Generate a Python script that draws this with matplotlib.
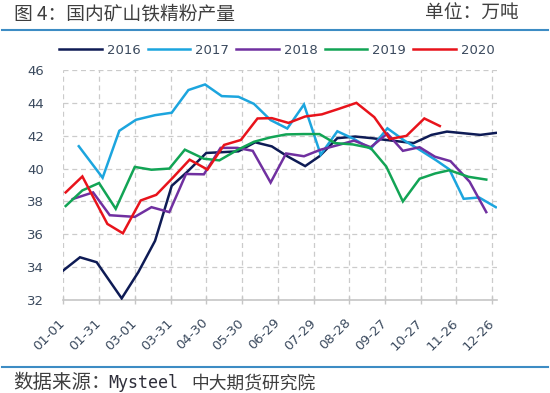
import matplotlib
matplotlib.use('Agg')
import matplotlib.pyplot as plt
import pandas as pd
from matplotlib.lines import Line2D

YEAR = 2020

dates_2016 = ['01-01', '01-15', '01-29', '02-19', '03-04', '03-18', '04-01', '04-14', '04-30', '05-14',
              '05-27', '06-10', '06-24', '07-07', '07-22', '08-03', '08-18', '09-02', '09-16', '09-27',
              '10-09', '10-21', '11-05', '11-18', '12-02', '12-16', '12-29']
vals_2016 = [33.8, 34.6, 34.3, 32.1, 33.7, 35.6, 38.95, 39.8, 40.95, 41.0,
             41.05, 41.6, 41.35, 40.75, 40.15, 40.75, 41.85, 41.95, 41.85, 41.75,
             41.65, 41.55, 42.05, 42.25, 42.15, 42.05, 42.17]

dates_2017 = ['01-14', '02-03', '02-17', '03-02', '03-18', '04-01', '04-15', '04-29', '05-13', '05-27',
              '06-09', '06-23', '07-07', '07-21', '08-04', '08-18', '09-01', '09-15', '09-29', '10-13',
              '10-27', '11-09', '11-20', '12-02', '12-15', '12-29']
vals_2017 = [41.36, 39.44, 42.3, 42.97, 43.25, 43.4, 44.78, 45.12, 44.41, 44.37,
             43.94, 42.95, 42.44, 43.9, 40.85, 42.27, 41.8, 41.2, 42.45, 41.72,
             41.1, 40.5, 39.95, 38.16, 38.24, 37.65]

dates_2018 = ['01-09', '01-26', '02-09', '03-01', '03-15', '03-30', '04-13', '04-28', '05-12', '05-26',
              '06-08', '06-23', '07-06', '07-21', '08-04', '08-18', '09-01', '09-15', '09-29', '10-12',
              '10-26', '11-08', '11-21', '12-07', '12-21']
vals_2018 = [38.15, 38.55, 37.16, 37.06, 37.65, 37.35, 39.67, 39.65, 41.26, 41.26,
             41.08, 39.15, 40.92, 40.75, 41.15, 41.42, 41.7, 41.3, 42.13, 41.08,
             41.3, 40.72, 40.45, 39.2, 37.35]

dates_2019 = ['01-03', '01-17', '01-31', '02-14', '03-01', '03-15', '03-30', '04-12', '04-28', '05-11',
              '05-26', '06-09', '06-23', '07-06', '07-21', '08-03', '08-16', '08-31', '09-15', '09-28',
              '10-12', '10-26', '11-08', '11-20', '12-06', '12-21']
vals_2019 = [37.72, 38.67, 39.12, 37.55, 40.1, 39.93, 40.0, 41.15, 40.6, 40.5,
             41.13, 41.63, 41.9, 42.08, 42.1, 42.1, 41.55, 41.47, 41.25, 40.13,
             38.0, 39.38, 39.7, 39.9, 39.5, 39.33]

dates_2020 = ['01-03', '01-17', '02-07', '02-20', '03-06', '03-19', '04-02', '04-16', '05-01', '05-15',
              '05-29', '06-12', '06-24', '07-08', '07-22', '08-05', '08-19', '09-03', '09-18', '10-01',
              '10-15', '10-30', '11-12']
vals_2020 = [38.55, 39.52, 36.63, 36.06, 38.06, 38.4, 39.45, 40.54, 39.94, 41.44,
             41.74, 43.05, 43.07, 42.78, 43.17, 43.3, 43.63, 44.0, 43.13, 41.8,
             41.99, 43.05, 42.59]

series_names = ['2016', '2017', '2018', '2019', '2020']
series_colors = ['#0E1B55', '#1CA5DE', '#7030A0', '#12A455', '#E8131B']
tick_labels = ['01-01', '01-31', '03-01', '03-31', '04-30', '05-30', '06-29',
               '07-29', '08-28', '09-27', '10-27', '11-26', '12-26']
y_ticks = [32, 34, 36, 38, 40, 42, 44, 46]

title_text = '图 4：国内矿山铁精粉产量'
unit_text = '单位：万吨'
source_prefix = '数据来源：'
source_name = 'Mysteel'
source_org = '中大期货研究院'

cjk = ['Noto Sans CJK SC', 'DejaVu Sans']
text_color = '#3F3F3F'
tick_color = '#3B4A5E'
rule_color = '#3D8CC4'


def to_dt(lst):
    return pd.to_datetime([f'{YEAR}-{d}' for d in lst])


W, H = 550, 393
fig = plt.figure(figsize=(W / 100, H / 100), dpi=100)
left_px, right_px, top_px, bot_px = 63.3, 497.0, 70.0, 300.0
ax = fig.add_axes([left_px / W, 1 - bot_px / H, (right_px - left_px) / W, (bot_px - top_px) / H])

all_dates = [dates_2016, dates_2017, dates_2018, dates_2019, dates_2020]
all_vals = [vals_2016, vals_2017, vals_2018, vals_2019, vals_2020]
for d, v, c, n in zip(all_dates, all_vals, series_colors, series_names):
    ax.plot(to_dt(d), v, color=c, lw=1.8, label=n, solid_joinstyle='miter', zorder=3)

ax.set_ylim(32, 46)
ax.set_yticks(y_ticks)
ax.set_yticklabels([str(t) for t in y_ticks])
ticks = to_dt(tick_labels)
ax.set_xticks(ticks)
ax.set_xticklabels(tick_labels, rotation=45, ha='right', va='center', rotation_mode='anchor')
ax.set_xlim(to_dt(['01-01'])[0], to_dt(['12-30'])[0])

for s in ['top', 'right', 'left']:
    ax.spines[s].set_visible(False)
ax.spines['bottom'].set_color('#C6C6C6')
ax.spines['bottom'].set_linewidth(1.2)
ax.spines['bottom'].set_zorder(1)

ax.grid(True, color='#CBCBCB', lw=0.9, ls=(0, (4, 3)), zorder=0)
ax.set_axisbelow(True)
ax.tick_params(axis='y', length=0, pad=14, labelsize=9.5, labelcolor=tick_color)
ax.tick_params(axis='x', direction='inout', length=6, width=1, color='#C6C6C6',
               pad=12, labelsize=9.5, labelcolor=tick_color)

handles = [Line2D([0], [0], color=c, lw=1.8) for c in series_colors]
fig.legend(handles, series_names, loc='center', bbox_to_anchor=(277 / W, 1 - 50.5 / H), ncol=5,
           frameon=False, fontsize=9.5, handlelength=3.2, handletextpad=0.4, columnspacing=0.55,
           labelcolor=tick_color)

fig.text(14 / W, 1 - 13.5 / H, title_text, family=cjk, fontsize=13.5, color=text_color,
         ha='left', va='center')
fig.text(519 / W, 1 - 13.5 / H, unit_text, family=cjk, fontsize=13.5, color=text_color,
         ha='right', va='center')
fig.add_artist(Line2D([0.003, 0.997], [1 - 29.5 / H, 1 - 29.5 / H], color=rule_color, lw=1.5))
fig.add_artist(Line2D([0.003, 0.997], [1 - 367 / H, 1 - 367 / H], color=rule_color, lw=1.5))
fig.text(13 / W, 1 - 383 / H, source_prefix, family=cjk, fontsize=14, color=text_color,
         ha='left', va='center')
fig.text(108 / W, 1 - 383 / H, source_name, family=['DejaVu Sans Mono'], fontsize=12,
         color='#2E2E3A', ha='left', va='center')
fig.text(191 / W, 1 - 383 / H, source_org, family=cjk, fontsize=12.8, color=text_color,
         ha='left', va='center')

fig.savefig('out.png', dpi=100)
